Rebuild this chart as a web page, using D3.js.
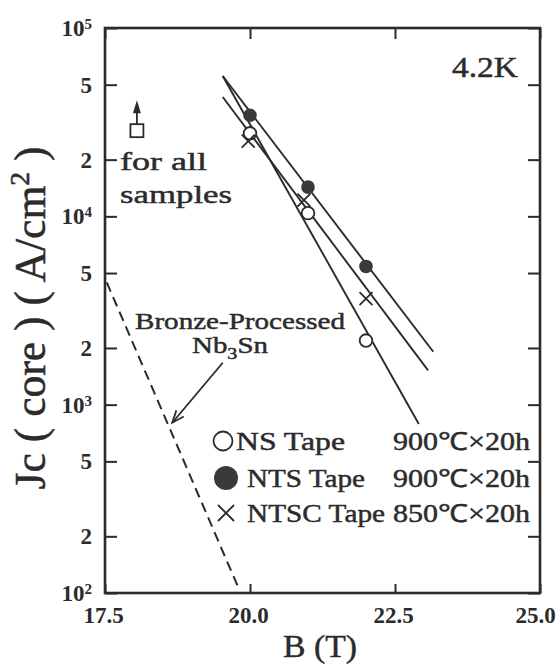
<!DOCTYPE html>
<html>
<head>
<meta charset="utf-8">
<script src="https://cdn.jsdelivr.net/npm/d3@7"></script>
<style>
  body { margin: 0; background: #fff; }
  svg { display: block; font-family: "Liberation Serif", "Times New Roman", serif; }
  .axis text { font-family: "Liberation Serif", "Times New Roman", serif; font-size: 23px; font-weight: bold; fill: #2b2b2b; }
  .axis line { stroke: #2b2b2b; stroke-width: 2; }
  .lbl { stroke: #2b2b2b; stroke-width: 0.45px; }
</style>
</head>
<body>
<svg id="chart" width="559" height="666"></svg>
<script>
// axis ticks
var tickB = [17.5, 20.0, 22.5, 25.0]
var tickJc = [1e2, 2e2, 5e2, 1e3, 2e3, 5e3, 1e4, 2e4, 5e4, 1e5]

// measured points (B in T, Jc in A/cm2)
var nsB = [20.0, 21.0, 22.0]
var nsJc = [27600, 10400, 2190]
var ntsB = [20.0, 21.0, 22.0]
var ntsJc = [34400, 14300, 5420]
var ntscB = [19.97, 20.93, 22.0]
var ntscJc = [25100, 12200, 3660]

// fitted lines, end points
var nsFit = [[19.53, 55600], [22.91, 790]]
var ntsFit = [[19.53, 55600], [23.16, 1910]]
var ntscFit = [[19.53, 43000], [23.07, 1520]]
var bronzeFit = [[17.53, 4460], [19.81, 105]]

// legend
var legendNames = ['NS Tape', 'NTS Tape', 'NTSC Tape']
var legendTreat = ['900\u2103\u00d720h', '900\u2103\u00d720h', '850\u2103\u00d720h']

var ink = '#2b2b2b'
var svg = d3.select('#chart')
var x = d3.scaleLinear().domain([17.5, 25]).range([105, 540])
var y = d3.scaleLog().domain([1e2, 1e5]).range([593, 28])

function supLabel(sel, d) {
    var e = Math.floor(Math.log10(d) + 1e-9)
    var m = Math.round(d / Math.pow(10, e))
    sel.text('')
    if (m === 1) {
        sel.append('tspan').text('10')
        sel.append('tspan').attr('dy', '-0.45em').style('font-size', '15px').text(e)
    } else
        sel.text(m)
}

// left axis
svg.append('g')
    .attr('class', 'axis')
    .attr('transform', 'translate(' + x.range()[0] + ',0)')
    .call(d3.axisLeft(y).tickValues(tickJc).tickSizeInner(-12).tickSizeOuter(0).tickPadding(13).tickFormat(''))
    .call(g => g.select('.domain').remove())
    .selectAll('.tick text').each(function(d) { supLabel(d3.select(this), d) })

// right axis (ticks only)
svg.append('g')
    .attr('class', 'axis')
    .attr('transform', 'translate(' + x.range()[1] + ',0)')
    .call(d3.axisRight(y).tickValues(tickJc).tickSizeInner(-12).tickSizeOuter(0).tickFormat(''))
    .call(g => g.select('.domain').remove())

// bottom axis
svg.append('g')
    .attr('class', 'axis')
    .attr('transform', 'translate(0,' + y.range()[0] + ')')
    .call(d3.axisBottom(x).tickValues(tickB).tickSizeInner(-9).tickSizeOuter(0).tickPadding(14).tickFormat(d3.format('.1f')))
    .call(g => g.select('.domain').remove())
    .selectAll('.tick text').attr('dx', (d, i) => i === tickB.length - 1 ? -5 : -2)

// top axis (ticks only)
svg.append('g')
    .attr('class', 'axis')
    .attr('transform', 'translate(0,' + y.range()[1] + ')')
    .call(d3.axisTop(x).tickValues(tickB).tickSizeInner(-11).tickSizeOuter(0).tickFormat(''))
    .call(g => g.select('.domain').remove())

// frame
svg.append('rect')
    .attr('x', x.range()[0]).attr('y', y.range()[1])
    .attr('width', x.range()[1] - x.range()[0])
    .attr('height', y.range()[0] - y.range()[1])
    .attr('fill', 'none').attr('stroke', ink).attr('stroke-width', 2.6)

// fitted lines
var line = d3.line().x(d => x(d[0])).y(d => y(d[1]))
;[nsFit, ntsFit, ntscFit].forEach(function(f) {
    svg.append('path').datum(f).attr('d', line)
        .attr('fill', 'none').attr('stroke', ink).attr('stroke-width', 1.9)
})
svg.append('path').datum(bronzeFit).attr('d', line)
    .attr('fill', 'none').attr('stroke', ink).attr('stroke-width', 2)
    .attr('stroke-dasharray', '10,6')

// markers
nsB.forEach(function(b, i) {
    svg.append('circle').attr('cx', x(b)).attr('cy', y(nsJc[i])).attr('r', 6.3)
        .attr('fill', '#fff').attr('stroke', ink).attr('stroke-width', 1.8)
})
ntsB.forEach(function(b, i) {
    svg.append('circle').attr('cx', x(b)).attr('cy', y(ntsJc[i])).attr('r', 6.8)
        .attr('fill', '#3a3a3a')
})
function cross(cx, cy, s, w) {
    svg.append('path')
        .attr('d', 'M' + (cx - s) + ',' + (cy - s) + 'L' + (cx + s) + ',' + (cy + s) +
                   'M' + (cx - s) + ',' + (cy + s) + 'L' + (cx + s) + ',' + (cy - s))
        .attr('stroke', ink).attr('stroke-width', w).attr('fill', 'none')
}
ntscB.forEach(function(b, i) { cross(x(b), y(ntscJc[i]), 6.5, 1.8) })

// "for all samples" marker: square with arrow up
var sqB = 18.05, sqJc = 28500, tipJc = 41400
svg.append('rect')
    .attr('x', x(sqB) - 6.5).attr('y', y(sqJc) - 6.5).attr('width', 13).attr('height', 13)
    .attr('fill', '#fff').attr('stroke', ink).attr('stroke-width', 1.8)
svg.append('line')
    .attr('x1', x(sqB)).attr('x2', x(sqB)).attr('y1', y(sqJc) - 6.5).attr('y2', y(tipJc) + 8)
    .attr('stroke', ink).attr('stroke-width', 1.8)
svg.append('path')
    .attr('d', 'M' + x(sqB) + ',' + y(tipJc) + 'l-4,13l8,0z')
    .attr('fill', ink)

// arrow to the bronze line
var arrFrom = [19.53, 1670], arrTo = [18.66, 802]
var ax1 = x(arrFrom[0]), ay1 = y(arrFrom[1]), ax2 = x(arrTo[0]), ay2 = y(arrTo[1])
svg.append('line').attr('x1', ax1).attr('y1', ay1).attr('x2', ax2).attr('y2', ay2)
    .attr('stroke', ink).attr('stroke-width', 1.8)
;(function() {
    var ang = Math.atan2(ay1 - ay2, ax1 - ax2), L = 13, spread = 0.38
    var p1 = [ax2 + L * Math.cos(ang - spread), ay2 + L * Math.sin(ang - spread)]
    var p2 = [ax2 + L * Math.cos(ang + spread), ay2 + L * Math.sin(ang + spread)]
    svg.append('path')
        .attr('d', 'M' + p1 + 'L' + ax2 + ',' + ay2 + 'L' + p2)
        .attr('fill', 'none').attr('stroke', ink).attr('stroke-width', 1.8)
})()

// texts
function label(txt, tx, ty, size, len, anchor) {
    var t = svg.append('text').attr('class', 'lbl').attr('x', tx).attr('y', ty)
        .style('font-size', size + 'px').attr('fill', ink).text(txt)
    if (len) t.attr('textLength', len).attr('lengthAdjust', 'spacingAndGlyphs')
    if (anchor) t.attr('text-anchor', anchor)
    return t
}
label('4.2K', 452, 77, 29, 66)
label('for all', 120, 170, 26, 87)
label('samples', 120, 203, 26, 112)
label('Bronze-Processed', 135, 329, 23, 210)
var nb = svg.append('text').attr('class', 'lbl').attr('x', 192).attr('y', 353)
    .style('font-size', '23px').attr('fill', ink)
    .attr('textLength', 76).attr('lengthAdjust', 'spacingAndGlyphs')
nb.append('tspan').text('Nb')
nb.append('tspan').attr('dy', 6).style('font-size', '16px').text('3')
nb.append('tspan').attr('dy', -6).text('Sn')

// legend
var legY = [450, 487, 522]
svg.append('circle').attr('cx', 223).attr('cy', legY[0] - 9).attr('r', 9.5)
    .attr('fill', '#fff').attr('stroke', ink).attr('stroke-width', 1.8)
svg.append('circle').attr('cx', 226).attr('cy', legY[1] - 9).attr('r', 12)
    .attr('fill', '#3a3a3a')
cross(226, legY[2] - 9, 8, 1.8)
var nameX = [236, 247, 247]
var nameLen = [109, 118, 138]
legendNames.forEach(function(n, i) {
    label(n, nameX[i], legY[i], 25, nameLen[i])
    label(legendTreat[i], 393, legY[i], 25, 137)
})

// axis titles
label('B (T)', 283, 657, 32, 74)
svg.append('text')
    .attr('class', 'lbl')
    .attr('transform', 'translate(45,318) scale(1.15,1) rotate(-90)')
    .attr('text-anchor', 'middle')
    .style('font-size', '38px').attr('fill', ink)
    .attr('textLength', 343).attr('lengthAdjust', 'spacingAndGlyphs')
    .html('Jc ( core ) ( A/cm<tspan dy="-14" style="font-size:24px">2</tspan><tspan dy="14"> )</tspan>')
</script>
</body>
</html>
